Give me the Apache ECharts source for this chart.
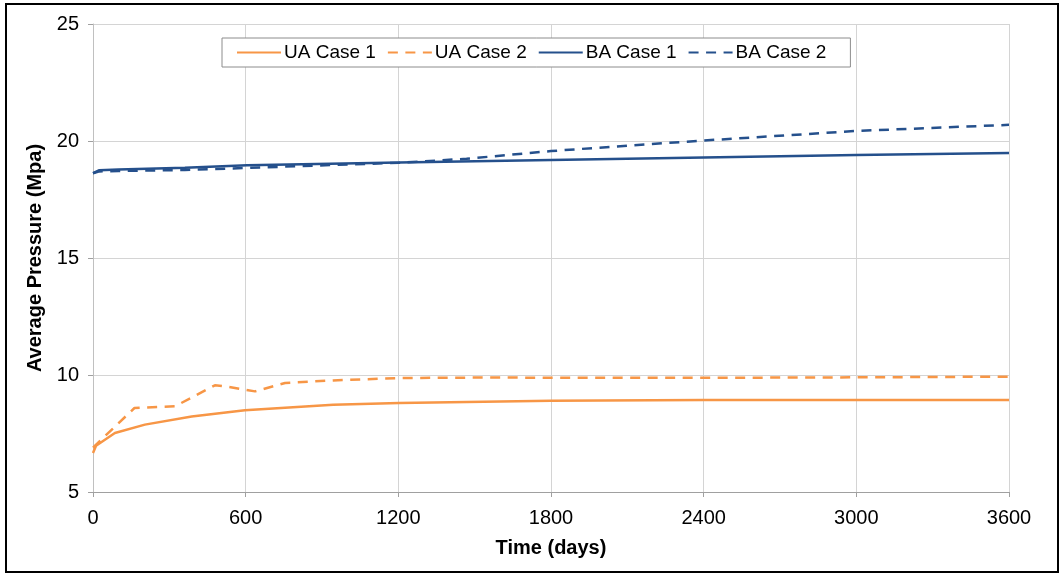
<!DOCTYPE html>
<html>
<head>
<meta charset="utf-8">
<script src="https://cdn.jsdelivr.net/npm/echarts@6/dist/echarts.min.js"></script>
<style>
html,body{margin:0;padding:0;background:#fff;}
#chart{width:1062px;height:576px;}
</style>
</head>
<body>
<div id="chart"></div>
<script>
// ---- data ----
var seriesNames = ['UA Case 1', 'UA Case 2', 'BA Case 1', 'BA Case 2'];
var xTicks = [0, 600, 1200, 1800, 2400, 3000, 3600];
var yTicks = [5, 10, 15, 20, 25];

var ua1Days = [0, 12, 86, 204, 388, 597, 944, 1203, 1403, 1800, 2400, 3000, 3600];
var ua1Vals = [6.67, 6.98, 7.52, 7.88, 8.23, 8.49, 8.73, 8.80, 8.84, 8.90, 8.93, 8.93, 8.93];

var ua2Days = [0, 163, 322, 479, 530, 637, 755, 944, 1200, 1500, 2400, 3000, 3600];
var ua2Vals = [6.90, 8.59, 8.66, 9.56, 9.50, 9.30, 9.66, 9.77, 9.87, 9.89, 9.88, 9.90, 9.93];

var ba1Days = [0, 5, 25, 100, 361, 606, 1203, 1800, 2400, 3000, 3600];
var ba1Vals = [18.63, 18.70, 18.75, 18.78, 18.86, 18.96, 19.08, 19.19, 19.29, 19.40, 19.49];

var ba2Days = [0, 5, 25, 100, 361, 606, 1203, 1468, 1800, 2100, 2400, 3000, 3600];
var ba2Vals = [18.62, 18.67, 18.70, 18.72, 18.76, 18.85, 19.07, 19.24, 19.57, 19.80, 20.02, 20.43, 20.69];

function pairs(xs, ys) { return xs.map(function (x, i) { return [x, ys[i]]; }); }

var orange = '#F79646';
var blue = '#25508C';
var font = 'Liberation Sans, Arial, sans-serif';

var chart = echarts.init(document.getElementById('chart'), null, {renderer: 'canvas'});
chart.setOption({
  animation: false,
  backgroundColor: '#fff',
  textStyle: {fontFamily: font},
  graphic: [{
    type: 'rect',
    shape: {x: 6, y: 4, width: 1052, height: 568},
    style: {fill: 'none', stroke: '#000', lineWidth: 2},
    silent: true, z: -1
  }],
  grid: {left: 93, right: 53, top: 24, bottom: 84},
  legend: {
    data: seriesNames,
    left: 222, top: 38,
    padding: [5, 24, 5, 14],
    itemGap: 11,
    itemWidth: 44,
    itemHeight: 14,
    borderColor: '#8c8c8c',
    borderWidth: 1,
    backgroundColor: '#fff',
    itemStyle: {opacity: 0},
    textStyle: {fontSize: 19, color: '#000', fontFamily: font, padding: [0, 0, 0, -2]}
  },
  xAxis: {
    type: 'value', min: xTicks[0], max: xTicks[xTicks.length - 1], interval: 600,
    name: 'Time (days)', nameLocation: 'middle', nameGap: 46,
    nameTextStyle: {fontSize: 20, fontWeight: 'bold', color: '#000', fontFamily: font},
    axisLine: {show: true, lineStyle: {color: '#a0a0a0', width: 1}},
    axisTick: {show: true, length: 5, lineStyle: {color: '#a0a0a0'}},
    axisLabel: {fontSize: 20, color: '#000', margin: 16, fontFamily: font,
                formatter: function (v) { return String(v); }},
    splitLine: {show: true, lineStyle: {color: '#d4d4d4', width: 1}}
  },
  yAxis: {
    type: 'value', min: yTicks[0], max: yTicks[yTicks.length - 1], interval: 5,
    name: 'Average Pressure (Mpa)', nameLocation: 'middle', nameGap: 46, nameRotate: 90,
    nameTextStyle: {fontSize: 20, fontWeight: 'bold', color: '#000', fontFamily: font},
    axisLine: {show: true, lineStyle: {color: '#c0c0c0', width: 1}},
    axisTick: {show: true, length: 5, lineStyle: {color: '#a0a0a0'}},
    axisLabel: {fontSize: 20, color: '#000', margin: 14, fontFamily: font},
    splitLine: {show: true, lineStyle: {color: '#d4d4d4', width: 1}}
  },
  series: [
    {name: seriesNames[0], type: 'line', symbol: 'none', data: pairs(ua1Days, ua1Vals),
     lineStyle: {color: orange, width: 2.5, type: 'solid'}, itemStyle: {color: orange}},
    {name: seriesNames[1], type: 'line', symbol: 'none', data: pairs(ua2Days, ua2Vals),
     lineStyle: {color: orange, width: 2.5, type: [10, 7.5]}, itemStyle: {color: orange}},
    {name: seriesNames[2], type: 'line', symbol: 'none', data: pairs(ba1Days, ba1Vals),
     lineStyle: {color: blue, width: 2.5, type: 'solid'}, itemStyle: {color: blue}},
    {name: seriesNames[3], type: 'line', symbol: 'none', data: pairs(ba2Days, ba2Vals),
     lineStyle: {color: blue, width: 2.5, type: [10, 7.5]}, itemStyle: {color: blue}}
  ]
});
</script>
</body>
</html>
